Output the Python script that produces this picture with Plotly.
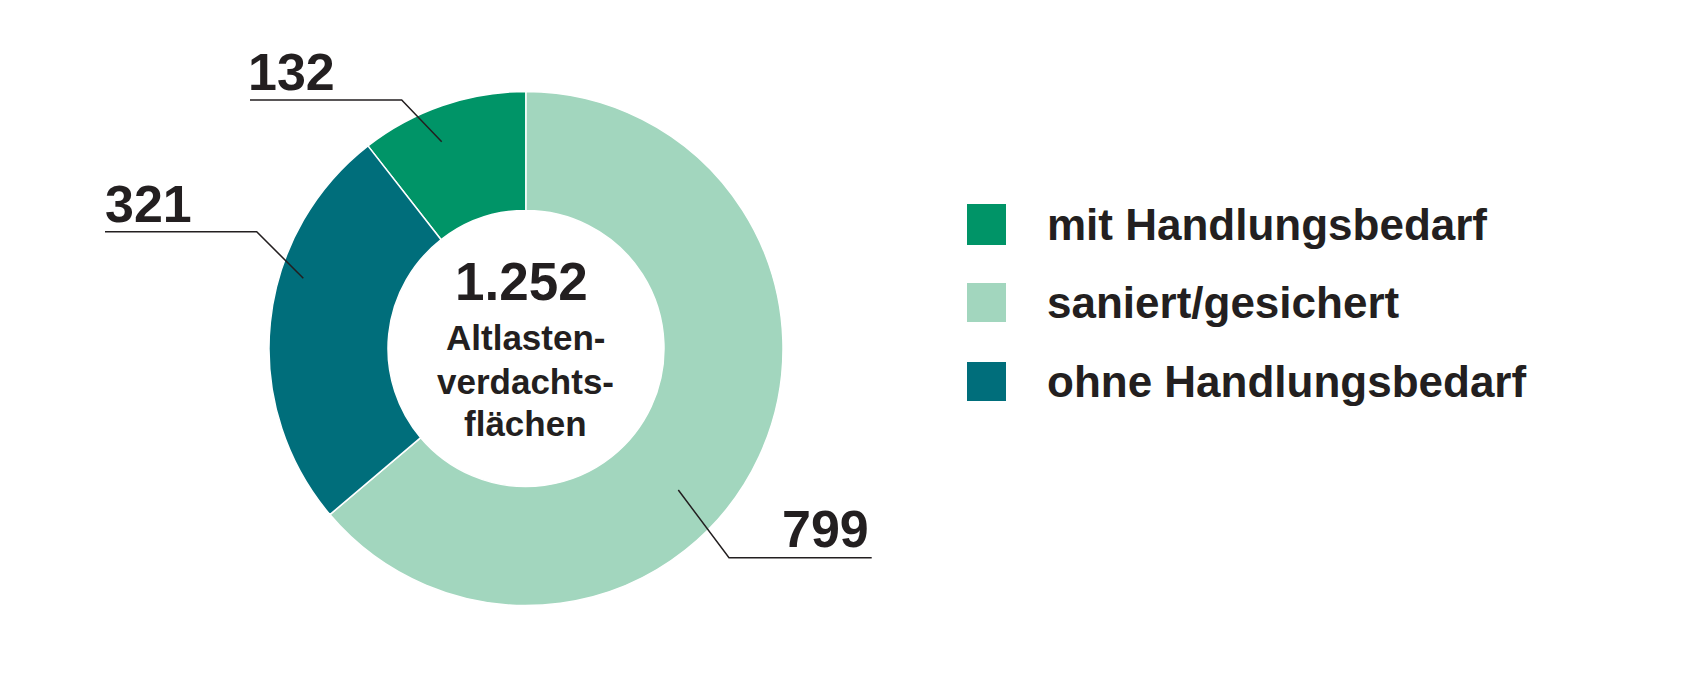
import plotly.graph_objects as go

# ---- data ----
labels = ["mit Handlungsbedarf", "saniert/gesichert", "ohne Handlungsbedarf"]
values = [132, 799, 321]
colors = ["#009467", "#A2D6BE", "#006E7B"]
total_label = "1.252"
center_lines = ["Altlasten-", "verdachts-", "flächen"]

# ---- layout (pixels) ----
W, H = 1691, 681
CX, CY, R = 526, 348.5, 257
HOLE = 138 / 257
TEXT = "#231F20"
FONT = "Liberation Sans, Arial, Helvetica, sans-serif"

def px(x):
    return x / W

def py(y):
    return 1 - y / H

total = sum(values)
rotation = -values[0] / total * 360

fig = go.Figure(go.Pie(
    labels=labels, values=values, sort=False, direction="clockwise",
    rotation=rotation, hole=HOLE, textinfo="none", hoverinfo="label+value",
    marker=dict(colors=colors, line=dict(color="white", width=1.5)),
    domain=dict(x=[px(CX - R), px(CX + R)], y=[py(CY + R), py(CY - R)]),
    showlegend=False,
))

annotations = []
shapes = []

# value labels with leader lines, keyed by category:
# (text center x, text center y, polyline points)
label_layout = {
    "mit Handlungsbedarf": (291, 72, [(250, 100), (401.7, 100), (441.7, 141.7)]),
    "ohne Handlungsbedarf": (148, 203.7, [(105, 231.7), (256.7, 231.7), (303.3, 278.3)]),
    "saniert/gesichert": (825, 529, [(871.7, 557.7), (729, 557.7), (678.3, 490)]),
}
for lab, v in zip(labels, values):
    tx, ty, pts = label_layout[lab]
    annotations.append(dict(
        x=px(tx), y=py(ty), xref="paper", yref="paper", text=str(v),
        showarrow=False, xanchor="center", yanchor="middle",
        font=dict(family=FONT, size=52, color=TEXT, weight="bold")))
    path = "M " + " L ".join(f"{px(x)},{py(y)}" for x, y in pts)
    shapes.append(dict(type="path", xref="paper", yref="paper", path=path,
                       line=dict(color=TEXT, width=1.5)))

# center text
annotations.append(dict(
    x=px(521), y=py(281.6), xref="paper", yref="paper", text=total_label,
    showarrow=False, xanchor="center", yanchor="middle",
    font=dict(family=FONT, size=53, color=TEXT, weight="bold")))
for line, cy in zip(center_lines, [337.9, 381.0, 423.0]):
    annotations.append(dict(
        x=px(525), y=py(cy), xref="paper", yref="paper", text=line,
        showarrow=False, xanchor="center", yanchor="middle",
        font=dict(family=FONT, size=35, color=TEXT, weight="bold")))

# custom legend
legend_rows = [(204, 245), (283, 322), (362, 401)]
for lab, col, (y0, y1) in zip(labels, colors, legend_rows):
    shapes.append(dict(type="rect", xref="paper", yref="paper",
                       x0=px(967), x1=px(1006), y0=py(y1), y1=py(y0),
                       fillcolor=col, line=dict(width=0)))
    annotations.append(dict(
        x=px(1045), y=py((y0 + y1) / 2), xref="paper", yref="paper", text=lab,
        showarrow=False, xanchor="left", yanchor="middle",
        font=dict(family=FONT, size=44, color=TEXT, weight="bold")))

fig.update_layout(
    width=W, height=H, margin=dict(l=0, r=0, t=0, b=0),
    paper_bgcolor="white", plot_bgcolor="white",
    annotations=annotations, shapes=shapes,
)

fig.write_html("out.html", config={"displayModeBar": False},
               post_script="document.body.style.margin='0';document.body.style.overflow='hidden';")
